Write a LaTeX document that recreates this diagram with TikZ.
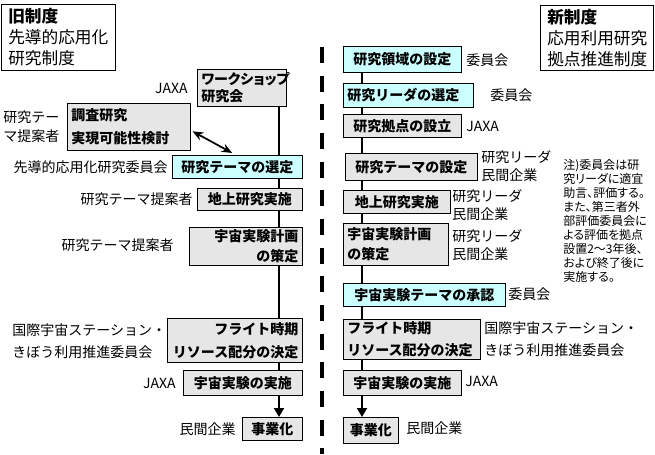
\documentclass[tikz,border=0pt]{standalone}
\usepackage{fontspec}
\setmainfont{Noto Sans CJK JP}
\usetikzlibrary{arrows.meta}
\usetikzlibrary{backgrounds}
\definecolor{boxgray}{HTML}{E6E6E6}
\definecolor{boxcyan}{HTML}{CCFFFF}
\begin{document}
\begin{tikzpicture}[x=0.75pt, y=-0.75pt,
    every node/.style={font=\fontsize{10.5pt}{13pt}\selectfont, inner sep=0pt},
    box/.style={draw, fill=boxgray, anchor=north west, inner xsep=3pt, inner ysep=0pt,
      font=\fontsize{10.5pt}{13pt}\selectfont\bfseries},
    cyanbox/.style={box, fill=boxcyan},
    lbl/.style={anchor=east, align=right},
    rlbl/.style={anchor=west, align=left},
    titlebox/.style={draw, anchor=north west, inner xsep=5.25pt, align=left,
      font=\fontsize{12.5pt}{15.75pt}\selectfont},
    flow/.style={line width=1.5pt, -{Triangle[width=7.5pt,length=6.75pt]}},
    divider/.style={line width=3pt, dash pattern=on 12pt off 9.5pt}]
        \useasboundingbox (0,0) rectangle (655,454);
        \node[titlebox, text width=75pt, minimum height=49.5pt] (ltitle) at (1,4) {\textbf{旧制度}\\先導的応用化\\研究制度};
        \node[titlebox, text width=74.25pt, minimum height=48.75pt] (rtitle) at (540,5) {\textbf{新制度}\\応用利用研究\\拠点推進制度};

        \node[box, text width=60.75pt, minimum height=27.75pt, align=left] (lws) at (197,69) {\addfontfeature{RawFeature=+palt}ワークショップ\\研究会};
        \node[box, text width=86.25pt, minimum height=35.25pt, align=left] (lsurvey) at (67,103) {調査研究\\[4.25pt]実現可能性検討};
        \node[cyanbox, text width=91.5pt, minimum height=17.25pt, align=center] (lsel) at (172,155) {研究テーマの選定};
        \node[box, text width=72.75pt, minimum height=16.5pt, align=center] (lground) at (197,188) {地上研究実施};
        \node[box, text width=78.75pt, minimum height=28.5pt, align=right] (lplan) at (189,227) {宇宙実験計画\\[2pt]の策定};
        \node[box, text width=95.25pt, minimum height=33pt, align=right] (lflight) at (167,318) {フライト時期\\[4.25pt]リソース配分の決定};
        \node[box, text width=83.25pt, minimum height=18.75pt, align=center] (lexec) at (183,370) {宇宙実験の実施};
        \node[box, text width=39pt, minimum height=17.25pt, align=center] (lbiz) at (242,417) {事業化};

        \node[lbl] (lwsby) at (188,88) {JAXA};
        \node[rlbl] (lsurveyby) at (3,127) {研究テー\\[1.25pt]マ提案者};
        \node[lbl] (lselby) at (168,167) {先導的応用化研究委員会};
        \node[lbl] (lgroundby) at (193,199) {研究テーマ提案者};
        \node[lbl] (lplanby) at (174,245) {研究テーマ提案者};
        \node[rlbl] (lflightby) at (12,341) {国際宇宙ステーション・\\[3.5pt]きぼう利用推進委員会};
        \node[lbl] (lexecby) at (176,383) {JAXA};
        \node[lbl] (lbizby) at (236,429) {民間企業};

        \node[cyanbox, text width=82.5pt, minimum height=19.5pt, align=center] (rfield) at (343,46) {研究領域の設定};
        \node[cyanbox, text width=91.5pt, minimum height=18pt, align=left] (rleader) at (343,83) {研究リーダの選定};
        \node[box, text width=82.5pt, minimum height=17.25pt, align=center] (rbase) at (343,114) {研究拠点の設立};
        \node[box, text width=93pt, minimum height=20.25pt, align=center] (rtheme) at (345,153) {研究テーマの設定};
        \node[box, text width=74.25pt, minimum height=17.25pt, align=center] (rground) at (343,190) {地上研究実施};
        \node[box, text width=72.75pt, minimum height=31.5pt, align=left] (rplan) at (343,223) {宇宙実験計画\\[2pt]の策定};
        \node[cyanbox, text width=115.5pt, minimum height=17.25pt, align=center] (rapprove) at (343,283) {宇宙実験テーマの承認};
        \node[box, text width=96.75pt, minimum height=30pt, align=left] (rflight) at (343,319) {フライト時期\\[3.5pt]リソース配分の決定};
        \node[box, text width=82.5pt, minimum height=18.75pt, align=center] (rexec) at (343,370) {宇宙実験の実施};
        \node[box, text width=35.25pt, minimum height=19.5pt, align=center] (rbiz) at (343,417) {事業化};

        \node[rlbl] (rfieldby) at (466,60) {委員会};
        \node[rlbl] (rleaderby) at (490,95) {委員会};
        \node[rlbl] (rbaseby) at (466,126) {JAXA};
        \node[rlbl] (rthemeby) at (481,166) {研究リーダ\\[0.5pt]民間企業};
        \node[rlbl] (rgroundby) at (452,205) {研究リーダ\\[0.5pt]民間企業};
        \node[rlbl] (rplanby) at (452,245) {研究リーダ\\[0.5pt]民間企業};
        \node[rlbl] (rapproveby) at (508,294) {委員会};
        \node[rlbl] (rflightby) at (484,339) {国際宇宙ステーション・\\[3.5pt]きぼう利用推進委員会};
        \node[rlbl] (rexecby) at (465,381) {JAXA};
        \node[rlbl] (rbizby) at (406,428) {民間企業};

        \node[anchor=north west, align=left, font=\fontsize{9pt}{10.5pt}\selectfont\addfontfeature{RawFeature=+palt}] (note) at (563,159) {注)委員会は研\\究リーダに適宜\\助言、評価する。\\また、第三者外\\部評価委員会に\\よる評価を拠点\\設置2～3年後、\\および終了後に\\実施する。};

        \draw[line width=1.3pt, {Stealth[length=8pt,width=6.5pt]}-{Stealth[length=8pt,width=6.5pt]}] ([xshift=1.5pt,yshift=-3.4pt]lsurvey.east) -- ([xshift=-3.75pt,yshift=1.5pt]lsel.north);

        \coordinate (dtop) at (322,47);
        \coordinate (dbot) at (322,454);
        \draw[divider] (dtop) -- (dbot);

        \begin{pgfonlayer}{background}
          \coordinate (lx) at (279,0);
          \coordinate (rx) at (362,0);
          \draw[flow] (lws.south -| lx) -- (lbiz.north -| lx);
          \draw[flow] (rfield.south -| rx) -- (rbiz.north -| rx);
        \end{pgfonlayer}
      \end{tikzpicture}
\end{document}
